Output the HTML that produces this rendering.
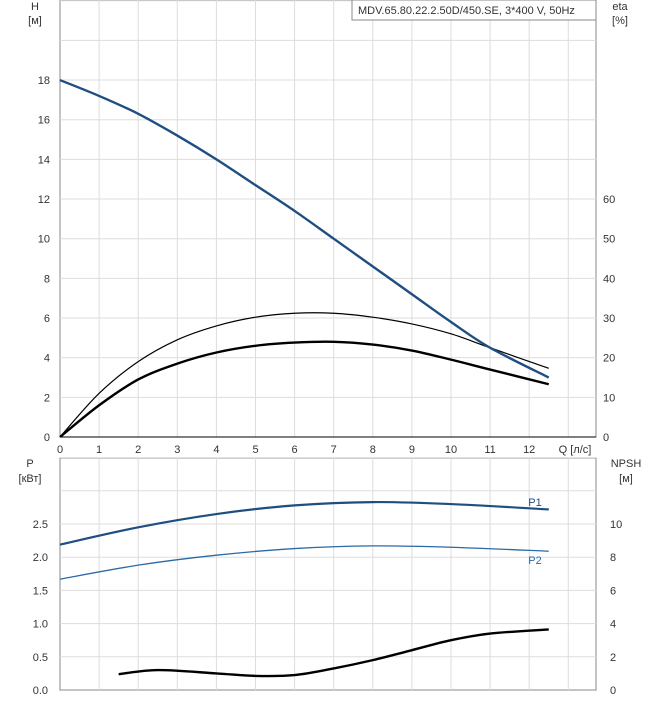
<!DOCTYPE html>
<html><head><meta charset="utf-8"><style>
body{margin:0;background:#fff;font-family:"Liberation Sans","Noto Sans CJK SC",sans-serif}
svg text{font-size:11px;fill:#333}
</style></head><body>
<svg id="c" width="658" height="700"></svg>
<script>
const qTicks=[0,1,2,3,4,5,6,7,8,9,10,11,12];
const hTicks=[0,2,4,6,8,10,12,14,16,18];
const etaTicks=[0,10,20,30,40,50,60];
const pTicks=[0,0.5,1,1.5,2,2.5];
const npshTicks=[0,2,4,6,8,10];
const hQ=[0,1,2,3,4,5,6,7,8,9,10,11,12.5];
const hVal=[18,17.2,16.3,15.2,14.0,12.7,11.4,10.0,8.6,7.2,5.8,4.5,3.0];
const etaQ=[0,1,2,3,4,5,6,7,8,9,10,11,12.5];
const eta1=[0,11,19,24.5,28,30.2,31.2,31.2,30.2,28.5,26,22.5,17.3];
const eta2=[0,8,14.5,18.5,21.3,23,23.8,24,23.3,21.8,19.5,17,13.3];
const pQ=[0,2,4,6,8,10,12.5];
const p1=[2.19,2.45,2.65,2.78,2.83,2.8,2.72];
const p2=[1.67,1.88,2.03,2.13,2.17,2.15,2.09];
const npQ=[1.5,2.5,4,5,6,7,8,9,10,11,12.5];
const npVal=[0.95,1.2,1.0,0.85,0.9,1.3,1.8,2.4,3.0,3.4,3.65];
const X=q=>60+q*39.1, YH=h=>437-h*19.83, YE=e=>437-e*3.967, YP=p=>690-p*66.4, YN=n=>690-n*16.6;
const svg=document.getElementById('c');const NS='http://www.w3.org/2000/svg';
function el(t,a,p){const e=document.createElementNS(NS,t);for(const k in a)e.setAttribute(k,a[k]);(p||svg).appendChild(e);return e;}
function txt(s,x,y,anchor,name,fill){const t=el('text',{x:x,y:y,'text-anchor':anchor||'middle'});t.textContent=s;

if(fill)t.setAttribute('style','fill:'+fill);return t;}
function path(xs,ys,fx,fy){const p=xs.map((q,i)=>[fx(q),fy(ys[i])]);let d='M'+p[0][0]+','+p[0][1];
for(let i=0;i<p.length-1;i++){const a=p[i-1]||p[i],b=p[i],c=p[i+1],e=p[i+2]||c;
d+=' C'+(b[0]+(c[0]-a[0])/6)+','+(b[1]+(c[1]-a[1])/6)+' '+(c[0]-(e[0]-b[0])/6)+','+(c[1]-(e[1]-b[1])/6)+' '+c[0]+','+c[1];}return d;}
// grids
function panel(top,bot,name){
 el('rect',{x:60,y:top,width:536,height:bot-top,fill:'none',stroke:'#888'});
 for(let q=1;q<=14;q++){const x=X(q);if(x<596)el('line',{x1:x,x2:x,y1:top,y2:bot,stroke:'#ddd'});}
}
panel(0,437,'head-panel');panel(458,690,'power-panel');
for(let h=0;h<=22;h+=2){const y=YH(h);if(y>0&&y<437)el('line',{x1:60,x2:596,y1:y,y2:y,stroke:'#ddd'});}
for(let p=0.5;p<=3.5;p+=0.5){el('line',{x1:60,x2:596,y1:YP(p),y2:YP(p),stroke:'#ddd'});}
el('line',{x1:60,x2:596,y1:437,y2:437,stroke:'#000'});
hTicks.forEach(h=>txt(String(h),50,YH(h)+4,'end','h-tick-'+h));
etaTicks.forEach(e=>txt(String(e),603,YE(e)+4,'start','eta-tick-'+e));
qTicks.forEach(q=>txt(String(q),X(q),453,'middle','q-tick-'+q));
pTicks.forEach(p=>txt(p.toFixed(1),48,YP(p)+4,'end','p-tick-'+p));
npshTicks.forEach(n=>txt(String(n),610,YN(n)+4,'start','npsh-tick-'+n));
txt('Q [л/с]',575,453,'middle','x-axis-title');
txt('H',35,10,'middle','h-axis-title');txt('[м]',35,24,'middle','h-axis-unit');
txt('eta',620,10,'middle','eta-axis-title');txt('[%]',620,24,'middle','eta-axis-unit');
txt('P',30,467,'middle','p-axis-title');txt('[кВт]',30,482,'middle','p-axis-unit');
txt('NPSH',626,467,'middle','npsh-axis-title');txt('[м]',626,482,'middle','npsh-axis-unit');
const lb=el('rect',{x:352,y:0,width:244,height:20,fill:'#fff',stroke:'#888'});
txt('MDV.65.80.22.2.50D/450.SE, 3*400 V, 50Hz',358,14,'start','chart-title');
function curve(xs,ys,fy,stroke,w,name){const p=el('path',{d:path(xs,ys,X,fy),fill:'none',stroke:stroke,'stroke-width':w});
}
curve(etaQ,eta1,YE,'#000',1.2,'eta-curve-thin');
curve(etaQ,eta2,YE,'#000',2.4,'eta-curve-thick');
curve(hQ,hVal,YH,'#1f4e80',2.4,'head-curve');
curve(pQ,p1,YP,'#1f4e80',2.2,'p1-curve');
curve(pQ,p2,YP,'#2a6aa5',1.3,'p2-curve');
curve(npQ,npVal,YN,'#000',2.4,'npsh-curve');
txt('P1',535,506,'middle','p1-label','#1f4e80');txt('P2',535,564,'middle','p2-label','#2a6aa5');
</script></body></html>
